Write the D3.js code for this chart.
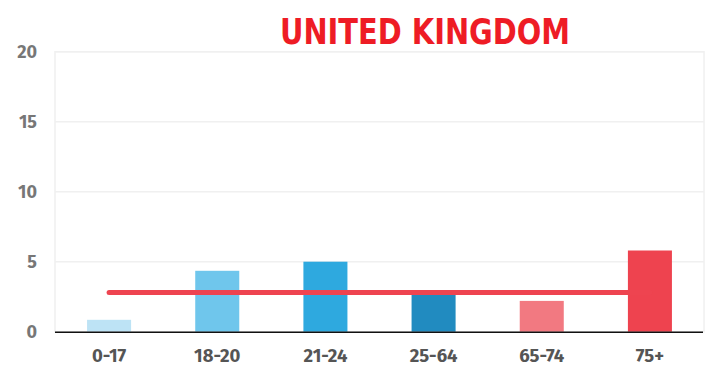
<!DOCTYPE html>
<html><head><meta charset="utf-8">
<script src="https://cdn.jsdelivr.net/npm/d3@7"></script>
<style>body{margin:0;background:#fff}</style>
</head><body>
<svg id="c" width="710" height="367"></svg>
<script>
const categories = ["0-17","18-20","21-24","25-64","65-74","75+"];
const values = [0.85, 4.35, 5.0, 2.7, 2.2, 5.8];
const colors = ["#bde3f5","#6fc6ec","#2ea9df","#218bc0","#f27981","#ee434f"];
const averageValue = 2.8;
const yTicks = [0,5,10,15,20];
const title = "UNITED KINGDOM";

const svg = d3.select("#c");
const L = 55, R = 704, T = 51.7, B = 331.7;
const x = d3.scaleBand().domain(categories).range([L, R]).padding(0);
const y = d3.scaleLinear().domain([0, 20]).range([B, T]);
const bw = x.bandwidth() * 0.407;

// plot frame
svg.append("rect").attr("x", L).attr("y", T).attr("width", R - L).attr("height", B - T)
  .attr("fill", "none").attr("stroke", "#f0f0f0").attr("stroke-width", 1.5);

// gridlines
svg.append("g").selectAll("line").data(yTicks.filter(d => d > 0)).join("line")
  .attr("x1", L).attr("x2", R).attr("y1", d => y(d)).attr("y2", d => y(d))
  .attr("stroke", "#f0f0f0").attr("stroke-width", 1.5);

// y axis
const ya = svg.append("g").attr("transform", `translate(${L},0)`)
  .call(d3.axisLeft(y).tickValues(yTicks).tickSize(0).tickPadding(18));
ya.select(".domain").remove();
ya.selectAll("text").attr("fill", "#777").style("font-family", "'Fira Sans','Open Sans',sans-serif")
  .style("font-weight", "700").style("font-size", "18px");

// bars
const bars = svg.append("g").selectAll("rect").data(categories).join("rect")
  .attr("x", d => x(d) + x.bandwidth() / 2 - bw / 2)
  .attr("width", bw)
  .attr("y", (d, i) => y(values[i]))
  .attr("height", (d, i) => y(0) - y(values[i]))
  .attr("fill", (d, i) => colors[i]);

// average line
svg.append("line")
  .attr("x1", x(categories[0]) + x.bandwidth() / 2)
  .attr("x2", x(categories[categories.length - 1]) + x.bandwidth() / 2)
  .attr("y1", y(averageValue)).attr("y2", y(averageValue))
  .attr("stroke", "#ee4450").attr("stroke-width", 5).attr("stroke-linecap", "round");
bars.filter((d, i) => i === categories.length - 1).raise();

// x axis
const xa = svg.append("g").attr("transform", `translate(0,${B})`)
  .call(d3.axisBottom(x).tickSize(0).tickPadding(17));
xa.select(".domain").remove();
svg.append("line").attr("x1", L).attr("x2", R - 1).attr("y1", B + 0.5).attr("y2", B + 0.5)
  .attr("stroke", "#111").attr("stroke-width", 1.6);
xa.selectAll("text").attr("fill", "#555").style("font-family", "'Fira Sans','Open Sans',sans-serif")
  .style("font-weight", "700").style("font-size", "18.5px");

// title
svg.append("text").attr("x", 425).attr("y", 44).attr("text-anchor", "middle")
  .attr("fill", "#ee1c25").style("font-family", "'DejaVu Sans Condensed','DejaVu Sans',sans-serif")
  .style("font-weight", "700").style("font-size", "36px")
  .attr("textLength", 290).attr("lengthAdjust", "spacingAndGlyphs")
  .text(title);
</script>
</body></html>
